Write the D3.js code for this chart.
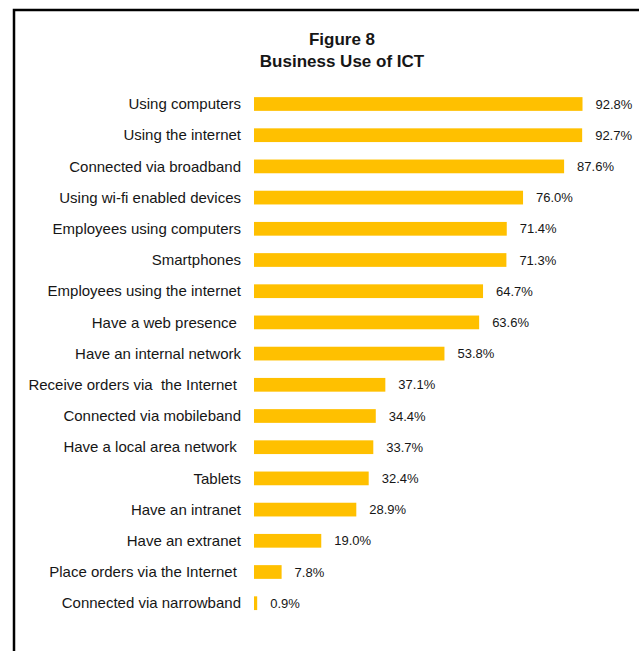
<!DOCTYPE html>
<meta charset="utf-8">
<style>
    body {
        margin: 0;
        background: #fff;
    }

    svg text {
        font-family: "Liberation Sans", Arial, sans-serif;
        fill: #161616;
    }

    .title {
        font-size: 17px;
        font-weight: bold;
    }

    .cat {
        font-size: 15px;
        white-space: pre;
    }

    .val {
        font-size: 13px;
    }
</style>

<body>
    <script src="https://d3js.org/d3.v7.min.js"></script>
    <script>

        var categories = [
            "Using computers",
            "Using the internet",
            "Connected via broadband",
            "Using wi-fi enabled devices",
            "Employees using computers",
            "Smartphones",
            "Employees using the internet",
            "Have a web presence ",
            "Have an internal network",
            "Receive orders via  the Internet ",
            "Connected via mobileband",
            "Have a local area network ",
            "Tablets",
            "Have an intranet",
            "Have an extranet",
            "Place orders via the Internet ",
            "Connected via narrowband"
        ];

        var values = [92.8, 92.7, 87.6, 76.0, 71.4, 71.3, 64.7, 63.6, 53.8,
            37.1, 34.4, 33.7, 32.4, 28.9, 19.0, 7.8, 0.9];

        var titleLines = ["Figure 8", "Business Use of ICT"];

        var width = 639, height = 651;

        var svg = d3.select("body").append("svg")
            .attr("width", width)
            .attr("height", height);

        // frame round the chart (right and bottom edges fall off the page)
        svg.append("rect")
            .attr("x", 14)
            .attr("y", 10)
            .attr("width", 700)
            .attr("height", 700)
            .style("fill", "none")
            .style("stroke", "#000")
            .style("stroke-width", 2.5);

        svg.selectAll(".title")
            .data(titleLines)
            .enter().append("text")
            .attr("class", "title")
            .attr("x", 342)
            .attr("y", (d, i) => 45 + i * 22)
            .attr("text-anchor", "middle")
            .text(d => d);

        var x = d3.scaleLinear()
            .domain([0, 100])
            .range([254, 608]);

        var y = d3.scaleBand()
            .domain(categories)
            .range([88.4, 618.8])
            .paddingInner(0.56)
            .paddingOuter(0.28);

        var rows = categories.map((c, i) => ({ cat: c, value: values[i] }));

        svg.selectAll(".bar")
            .data(rows)
            .enter().append("rect")
            .attr("class", "bar")
            .attr("x", x(0))
            .attr("y", d => y(d.cat))
            .attr("width", d => x(d.value) - x(0))
            .attr("height", y.bandwidth())
            .style("fill", "#ffc000");

        // trailing spaces in some labels are kept, as in the original
        svg.selectAll(".cat")
            .data(rows)
            .enter().append("text")
            .attr("class", "cat")
            .attr("x", x(0) - 13)
            .attr("y", d => y(d.cat) + y.bandwidth() / 2)
            .attr("dy", ".35em")
            .attr("text-anchor", "end")
            .text(d => d.cat);

        svg.selectAll(".val")
            .data(rows)
            .enter().append("text")
            .attr("class", "val")
            .attr("x", d => x(d.value) + 13)
            .attr("y", d => y(d.cat) + y.bandwidth() / 2)
            .attr("dy", ".35em")
            .text(d => d.value.toFixed(1) + "%");

    </script>
</body>
